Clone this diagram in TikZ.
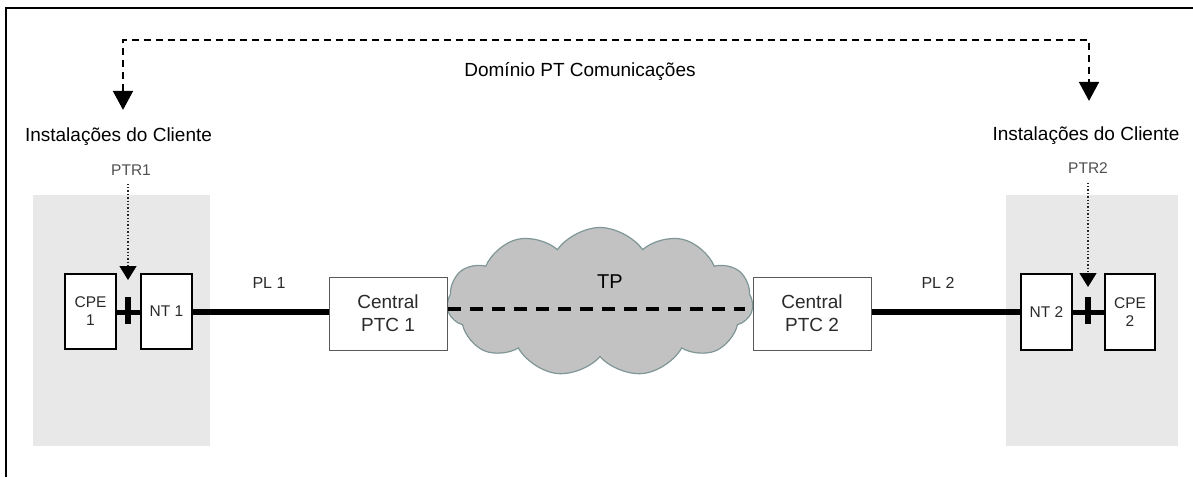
\documentclass[tikz,border=0pt]{standalone}
\usepackage{fontspec}
\setmainfont{Liberation Sans}
\usetikzlibrary{arrows.meta,shapes.symbols,calc}
\definecolor{zone}{HTML}{E8E8E8}
\definecolor{cloudfill}{HTML}{C2C2C2}
\definecolor{cloudline}{HTML}{7E9696}
\definecolor{boxtext}{HTML}{2A2A2A}
\definecolor{ptrtext}{HTML}{505050}
\begin{document}
\begin{tikzpicture}[x=1pt,y=-1pt,
  lbl/.style={inner sep=0pt, font=\fontsize{19}{22}\selectfont},
  ptr/.style={inner sep=0pt, text=ptrtext, font=\fontsize{15.5}{18}\selectfont},
  dev/.style={draw=black, line width=1.6pt, fill=white, minimum width=51pt, minimum height=75pt, inner sep=0pt, align=center, text=boxtext, font=\fontsize{15.5}{18}\selectfont},
  central/.style={draw=black!65, line width=1pt, fill=white, minimum width=118pt, minimum height=73pt, inner sep=0pt, align=center, text=boxtext, font=\fontsize{19}{23}\selectfont},
  pl/.style={inner sep=0pt, text=boxtext, font=\fontsize{16}{19}\selectfont},
  dom/.style={line width=1.8pt, dash pattern=on 7pt off 5pt, {Triangle[width=20pt,length=19pt]}-{Triangle[width=20pt,length=19pt]}},
  ptrarrow/.style={line width=1.4pt, dotted, draw=black!85, -{Triangle[width=17pt,length=14pt,fill=black,color=black]}},
  link/.style={line width=6pt},
  shortlink/.style={line width=5pt},
  bar/.style={line width=6pt},
  tpdash/.style={line width=3.5pt, dash pattern=on 13pt off 9pt}]
\useasboundingbox (0,0) rectangle (1193,477);
% frame
\draw[line width=2.5pt] (1193,8) -- (6,8) -- (6,477);
% customer zones
\fill[zone] (33,195) rectangle (210,446);
\fill[zone] (1006,195) rectangle (1178,446);
% labels
\node[lbl] (dom) at (580,72) {Domínio PT Comunicações};
\node[lbl] (lab1) at (118.5,137) {Instalações do Cliente};
\node[lbl] (lab2) at (1086,136) {Instalações do Cliente};
\node[ptr] (ptr1) at (131,170) {PTR1};
\node[ptr] (ptr2) at (1088,168) {PTR2};
\coordinate (d1) at (123,40);
\coordinate (d2) at (1089,40);
% cloud
\node[cloud, cloud puffs=11, cloud puff arc=110, aspect=2.05, draw=cloudline, fill=cloudfill, line width=1.2pt, minimum width=306pt, minimum height=149pt, inner sep=0pt] (cloud) at (600,302) {};
\node[inner sep=0pt, font=\fontsize{20}{24}\selectfont] (tp) at (610,282) {TP};
% devices
\node[dev] (cpe1) at (90.5,311.5) {CPE\\1};
\node[dev] (nt1) at (166.5,311.5) {NT 1};
\node[central] (c1) at (388,313.5) {Central\\PTC 1};
\node[central] (c2) at (812,313.5) {Central\\PTC 2};
\node[dev, minimum height=76pt] (nt2) at (1046.5,312) {NT 2};
\node[dev, minimum height=76pt, minimum width=50pt] (cpe2) at (1130,312) {CPE\\2};
\coordinate (x1) at (128,312);
\coordinate (x2) at (1088,312);
% links
\draw[shortlink] (cpe1.east |- x1) -- (nt1.west |- x1);
\draw[bar] ($(x1)+(0,-15)$) -- ($(x1)+(0,12)$);
\draw[link] (nt1.east |- x1) -- (c1.west |- x1);
\draw[tpdash] (c1.east |- 0,309) -- ($(c2.west |- 0,309)+(-8,0)$);
\draw[link] (c2.east |- x2) -- (nt2.west |- x2);
\draw[shortlink] (nt2.east |- x2) -- (cpe2.west |- x2);
\draw[bar] ($(x2)+(0,-15)$) -- ($(x2)+(0,12)$);
\node[pl] (pl1) at (269,283) {PL 1};
\node[pl] (pl2) at (938,283) {PL 2};
% PTR arrows
\draw[ptrarrow] ($(ptr1.south -| x1)+(0,8)$) -- ($(x1)+(0,-32)$);
\draw[ptrarrow] ($(ptr2.south -| x2)+(0,9)$) -- ($(x2)+(0,-25)$);
% domain arrow
\draw[dom, shorten <=18pt, shorten >=26pt] (d1 |- lab1.north) -- (d1) -- (d2) -- (d2 |- lab2.north);
\end{tikzpicture}
\end{document}
